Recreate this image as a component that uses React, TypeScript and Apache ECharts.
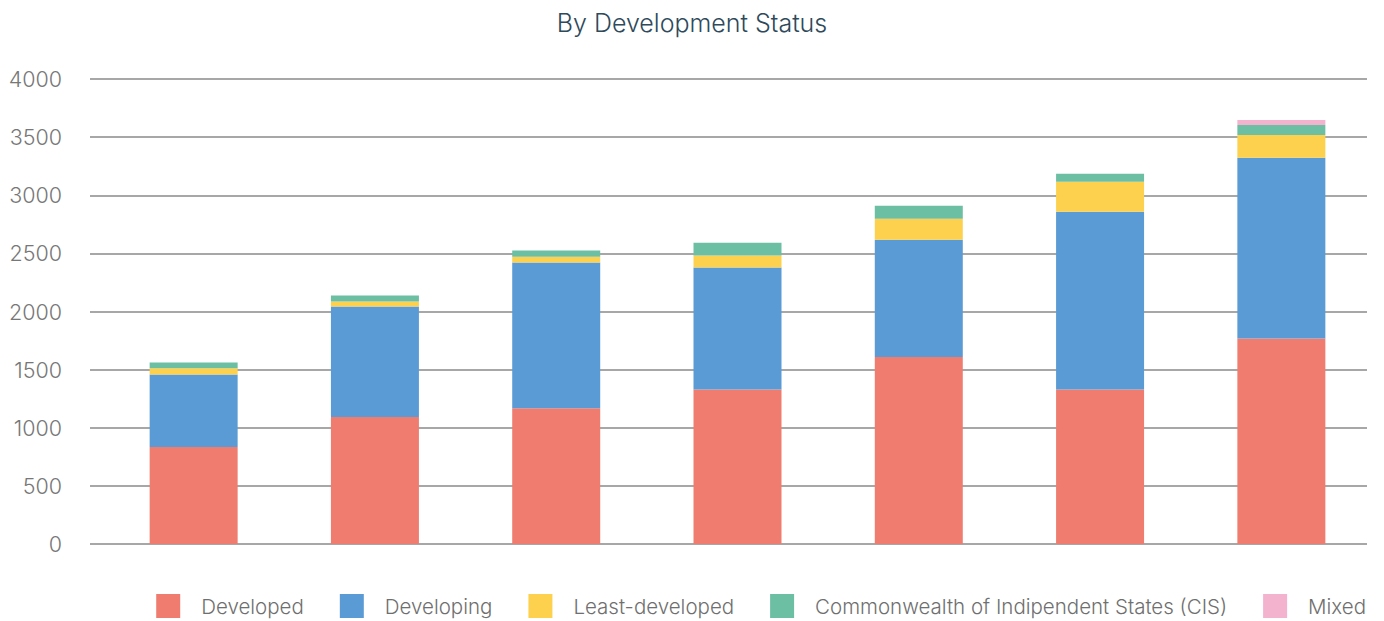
import React, { useEffect, useRef } from "react";
import * as echarts from "echarts";

const categories = ["1", "2", "3", "4", "5", "6", "7"];
const developed = [835, 1093, 1167, 1330, 1608, 1330, 1768];
const developing = [624, 950, 1254, 1048, 1010, 1528, 1554];
const leastDeveloped = [52, 43, 51, 103, 180, 258, 197];
const cis = [51, 51, 52, 111, 112, 69, 86];
const mixed = [0, 0, 0, 0, 0, 0, 43];

const seriesNames = [
  "Developed",
  "Developing",
  "Least-developed",
  "Commonwealth of Indipendent States (CIS)",
  "Mixed",
];
const colors = ["#ef7c6f", "#5b9bd5", "#fdd14e", "#6cbfa3", "#f3b2cd"];

export default function App() {
  const ref = useRef<HTMLDivElement>(null);
  useEffect(() => {
    document.body.style.margin = "0";
    const chart = echarts.init(ref.current!, null, { renderer: "svg" });
    const font = "Inter, 'Noto Sans', sans-serif";
    const datasets = [developed, developing, leastDeveloped, cis, mixed];
    chart.setOption({
      animation: false,
      backgroundColor: "#ffffff",
      textStyle: { fontFamily: font },
      title: {
        text: "By Development Status",
        left: "center",
        top: 5,
        textStyle: {
          fontFamily: font,
          fontSize: 25,
          fontWeight: 300,
          color: "#2e4a5b",
        },
      },
      legend: {
        data: seriesNames,
        right: 13,
        top: 589,
        itemWidth: 24,
        itemHeight: 24,
        itemGap: 36,
        icon: "rect",
        textStyle: {
          fontFamily: font,
          fontSize: 20.5,
          fontWeight: 300,
          color: "#6f6f6f",
          padding: [0, 0, 0, 16],
        },
      },
      grid: [
        { left: 90, right: 17, top: 79, bottom: 77 },
        { left: 103, right: 12, top: 79, bottom: 77 },
      ],
      xAxis: [
        {
          type: "category",
          gridIndex: 0,
          data: categories,
          show: false,
        },
        {
          type: "category",
          gridIndex: 1,
          data: categories,
          axisLine: { show: false },
          axisTick: { show: false },
          axisLabel: { show: false },
        },
      ],
      yAxis: [
        {
          type: "value",
          gridIndex: 0,
          min: 0,
          max: 4000,
          interval: 500,
          axisLine: { show: false },
          axisTick: { show: false },
          axisLabel: {
            margin: 28,
            fontFamily: font,
            fontSize: 21.5,
            fontWeight: 300,
            color: "#777777",
            formatter: (v: number) => String(v),
          },
          splitLine: { lineStyle: { color: "#8a8a8a", width: 1.5 } },
        },
        {
          type: "value",
          gridIndex: 1,
          min: 0,
          max: 4000,
          interval: 500,
          show: false,
          splitLine: { show: false },
        },
      ],
      series: datasets.map((d, i) => ({
        name: seriesNames[i],
        type: "bar",
        stack: "total",
        xAxisIndex: 1,
        yAxisIndex: 1,
        barWidth: 88,
        itemStyle: { color: colors[i] },
        data: d,
      })),
    });
    return () => chart.dispose();
  }, []);
  return <div ref={ref} style={{ width: 1384, height: 621 }} />;
}
